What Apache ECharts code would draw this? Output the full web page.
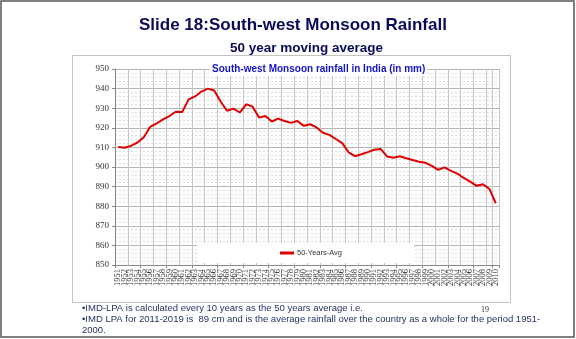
<!DOCTYPE html>
<html><head><meta charset="utf-8">
<script src="https://cdn.jsdelivr.net/npm/echarts@6/dist/echarts.min.js"></script>
<style>html,body{margin:0;padding:0;background:#fff}#c{width:576px;height:339px}</style>
</head><body><div id="c"></div>
<script>
const years = ['1951','1952','1953','1954','1955','1956','1957','1958','1959','1960',
'1961','1962','1963','1964','1965','1966','1967','1968','1969','1970',
'1971','1972','1973','1974','1975','1976','1977','1978','1979','1980',
'1981','1982','1983','1984','1985','1986','1987','1988','1989','1990',
'1991','1992','1993','1994','1995','1996','1997','1998','1999','2000',
'2001','2002','2003','2004','2005','2006','2007','2008','2009','2010'];
const avg50 = [910.2,909.8,910.8,912.5,915.2,920.5,922.2,924.3,926.0,928.2,
928.0,934.5,936.0,938.5,940.0,939.0,933.4,928.7,929.8,927.8,
932.0,930.8,925.2,926.0,923.2,924.7,923.5,922.5,923.5,921.0,
921.8,920.2,917.5,916.4,914.3,912.2,907.5,905.5,906.5,907.6,
908.8,909.2,905.4,904.7,905.5,904.5,903.6,902.7,902.2,900.6,
898.5,899.8,898.0,896.6,894.4,892.5,890.4,891.2,888.8,881.5];
const seriesName = '50-Years-Avg';
const yMin = 850, yMax = 950, yStep = 10;
const slideTitle = 'Slide 18:South-west Monsoon Rainfall';
const slideSub = '50 year moving average';
const chartTitle = 'South-west Monsoon rainfall in India (in mm)';
const notes = ['\u2022IMD-LPA is calculated every 10 years as the 50 years average i.e.',
'\u2022IMD LPA for 2011-2019 is  89 cm and is the average rainfall over the country as a whole for the period 1951-',
'2000.'];
const pageNo = '19';

const chart = echarts.init(document.getElementById('c'), null, {renderer:'canvas'});
const noteFont = {fontFamily:'Liberation Sans, Arial', fontSize:9.5, fill:'#1f2d5c'};
chart.setOption({
  backgroundColor:'#fff',
  animation:false,
  title:[
    {text:slideTitle, left:134, top:12, textStyle:{fontFamily:'Liberation Sans, Arial', fontWeight:'bold', fontSize:17, color:'#0a0a5a'}},
    {text:slideSub, left:225, top:36, textStyle:{fontFamily:'Liberation Sans, Arial', fontWeight:'bold', fontSize:13.5, color:'#0a0a5a'}},
    {text:chartTitle, left:210, top:62, padding:[2,2,2,2], backgroundColor:'#fff', textStyle:{fontFamily:'Liberation Sans, Arial', fontWeight:'bold', fontSize:10, color:'#1414c8'}}
  ],
  grid:{left:115, right:77, top:69, bottom:74, containLabel:false},
  legend:{
    data:[seriesName], left:197, top:243, padding:[6,72,6,83],
    backgroundColor:'#fff', itemWidth:14, itemHeight:3, itemGap:0,
    icon:'rect',
    textStyle:{fontFamily:'Liberation Sans, Arial', fontSize:7.5, color:'#333', padding:[0,0,0,-2]}
  },
  xAxis:{
    type:'category', data:years, boundaryGap:true,
    axisLine:{show:true, lineStyle:{color:'#888', width:1}},
    axisTick:{show:true, interval:3, length:3, lineStyle:{color:'#888'}},
    axisLabel:{interval:0, rotate:90, fontFamily:'Liberation Serif, Times New Roman', fontSize:8.5, color:'#333', margin:4},
    splitLine:{show:true, interval:1, lineStyle:{color:'#c6c6c6', width:1}}
  },
  yAxis:{
    type:'value', min:yMin, max:yMax, interval:yStep,
    axisLine:{show:true, lineStyle:{color:'#888', width:1}},
    axisTick:{show:true, length:3, lineStyle:{color:'#888'}},
    axisLabel:{fontFamily:'Liberation Serif, Times New Roman', fontSize:9, color:'#333', margin:6},
    splitLine:{show:true, lineStyle:{color:'#b4b4b4', width:1}},
    minorTick:{show:false, splitNumber:5},
    minorSplitLine:{show:true, lineStyle:{color:'#dedede', width:1, type:[2,2]}}
  },
  series:[{
    name:seriesName, type:'line', data:avg50, symbol:'none', smooth:false,
    lineStyle:{color:'#e00000', width:2}, itemStyle:{color:'#e00000'}
  }],
  graphic:[
    {type:'rect', z:-1, silent:true, shape:{x:1, y:1, width:573, height:336}, style:{fill:null, stroke:'#555', lineWidth:1.5}},
    {type:'rect', z:-1, silent:true, shape:{x:72.5, y:55.5, width:438, height:247}, style:{fill:null, stroke:'#c4c4c4', lineWidth:1}},
    {type:'text', left:82, top:303, style:Object.assign({text:notes[0]}, noteFont)},
    {type:'text', left:82, top:314, style:Object.assign({text:notes[1]}, noteFont)},
    {type:'text', left:82, top:325, style:Object.assign({text:notes[2]}, noteFont)},
    {type:'text', left:481, top:306, style:{text:pageNo, fontFamily:'Liberation Serif, Times New Roman', fontSize:8, fill:'#333'}}
  ]
});
</script></body></html>
